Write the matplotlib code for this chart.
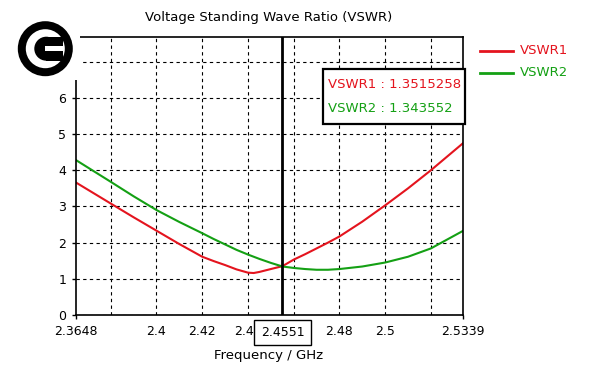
import matplotlib
matplotlib.use("Agg")
import matplotlib.pyplot as plt
from matplotlib.patches import Circle, Rectangle

# data
freq = [2.3648, 2.38, 2.39, 2.40, 2.41, 2.42, 2.425, 2.43, 2.435, 2.44, 2.4425,
        2.445, 2.45, 2.4551, 2.46, 2.465, 2.47, 2.475, 2.48, 2.49, 2.50, 2.51,
        2.52, 2.5339]
vswr1 = [3.66, 3.08, 2.70, 2.33, 1.96, 1.61, 1.49, 1.38, 1.26, 1.17, 1.16,
         1.19, 1.27, 1.35, 1.53, 1.68, 1.84, 2.00, 2.17, 2.58, 3.03, 3.50,
         4.00, 4.74]
vswr2 = [4.28, 3.68, 3.28, 2.90, 2.57, 2.26, 2.10, 1.95, 1.80, 1.67, 1.61,
         1.55, 1.44, 1.34, 1.30, 1.27, 1.25, 1.25, 1.27, 1.34, 1.45, 1.61,
         1.84, 2.32]

x_ends = [2.3648, 2.5339]
x_grid = [2.38, 2.40, 2.42, 2.44, 2.46, 2.48, 2.50, 2.52]
x_grid_labels = ["", "2.4", "2.42", "2.44", "2.46", "2.48", "2.5", ""]
y_ticks = [0, 1, 2, 3, 4, 5, 6, 7]
marker_f = 2.4551
marker_vals = ["VSWR1 : 1.3515258", "VSWR2 : 1.343552"]

red = "#e4141e"
green = "#14a014"

W, H = 600, 366
plt.rcParams["font.family"] = "DejaVu Sans"

fig = plt.figure(figsize=(W / 100, H / 100), dpi=100)

def fx(px):
    return px / W

def fy(py):
    return 1 - py / H

ax = fig.add_axes([fx(76), fy(315), fx(462.7) - fx(76), fy(36.7) - fy(315)])
ax.plot(freq, vswr1, color=red, lw=1.5, label="VSWR1")
ax.plot(freq, vswr2, color=green, lw=1.5, label="VSWR2")
ax.axvline(marker_f, color="black", lw=2)

ax.set_xlim(x_ends[0], x_ends[1])
ax.set_ylim(0, 7.69)
ax.set_xticks(x_ends, [f"{v}" for v in x_ends])
ax.set_xticks(x_grid, x_grid_labels, minor=True)
ax.set_yticks(y_ticks, [str(v) for v in y_ticks])
ax.tick_params(axis="both", which="major", length=3, width=1, labelsize=9, pad=4)
ax.tick_params(axis="x", which="minor", length=0, labelsize=9, pad=7)
ax.grid(True, which="minor", axis="x", color="black", ls=(0, (3, 3)), lw=0.8)
ax.grid(True, which="major", axis="y", color="black", ls=(0, (3, 3)), lw=0.8)
for s in ax.spines.values():
    s.set_linewidth(1.2)

fig.text(fx(269), fy(17), "Voltage Standing Wave Ratio (VSWR)", ha="center", va="center", fontsize=9.5)
fig.text(fx(269), fy(355), "Frequency / GHz", ha="center", va="center", fontsize=9.5)

# marker frequency box (covers the 2.44 / 2.46 labels like in the original)
fig.text(fx(282.5), fy(332.5), f"{marker_f}", ha="center", va="center", fontsize=9,
         bbox=dict(boxstyle="square,pad=0.5", fc="white", ec="black", lw=1), zorder=10)

# marker values box
fig.patches.append(Rectangle((fx(322.7), fy(124)), fx(465) - fx(322.7), fy(69.3) - fy(124),
                             transform=fig.transFigure, fc="white", ec="black", lw=1.6, zorder=5))
fig.text(fx(328), fy(84), marker_vals[0], color=red, va="center", fontsize=9.5, zorder=6)
fig.text(fx(328), fy(108), marker_vals[1], color=green, va="center", fontsize=9.5, zorder=6)

# legend
for yy, col, lab in [(50.7, red, "VSWR1"), (72.7, green, "VSWR2")]:
    fig.lines.append(plt.Line2D([fx(480), fx(513)], [fy(yy), fy(yy)], transform=fig.transFigure,
                                color=col, lw=2))
    fig.text(fx(520), fy(yy), lab, color=col, va="center", fontsize=9.5)

# logo in the corner, on its own overlay axes in pixel units
logo = fig.add_axes([0, 0, 1, 1], facecolor="none", zorder=30)
logo.set_xlim(0, W)
logo.set_ylim(H, 0)
logo.axis("off")
lx, ly = 45.3, 48.7
logo.add_patch(Rectangle((0, 0), 80, 80, fc="white", ec="none"))
logo.add_patch(Circle((lx, ly), 27.5, fc="black", ec="none"))
logo.add_patch(Circle((lx, ly), 19.5, fc="white", ec="none"))
logo.add_patch(Circle((lx + 1, ly), 12, fc="black", ec="none"))
logo.add_patch(Rectangle((lx + 1, ly - 12), 17, 24, fc="black", ec="none"))
logo.add_patch(Rectangle((lx, ly - 2.5), 19, 5, fc="white", ec="none"))

fig.savefig("out.png", dpi=100)
